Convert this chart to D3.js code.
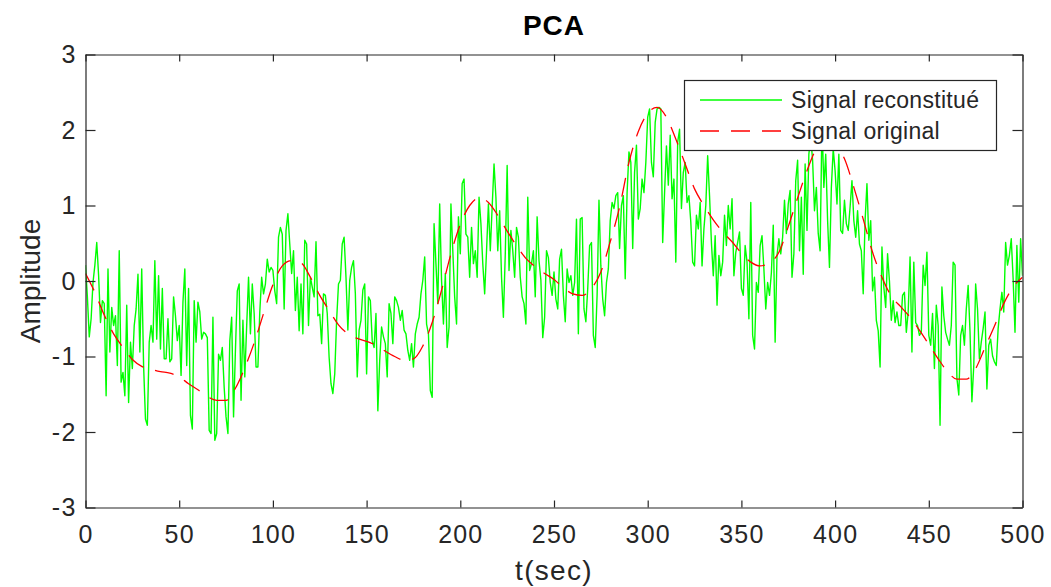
<!DOCTYPE html>
<html>
<head>
<meta charset="utf-8">
<script src="https://cdn.jsdelivr.net/npm/d3@7.9.0/dist/d3.min.js"></script>
<style>
  body { margin: 0; background: #fff; }
  svg { display: block; font-family: "Liberation Sans", Arial, Helvetica, sans-serif; }
</style>
</head>
<body>
<svg id="chart" width="1051" height="587"></svg>
<script>
const title = 'PCA';
const xLabel = 't(sec)';
const yLabel = 'Amplitude';
const seriesNames = ['Signal reconstitué', 'Signal original'];
const xTicks = [0, 50, 100, 150, 200, 250, 300, 350, 400, 450, 500];
const yTicks = [-3, -2, -1, 0, 1, 2, 3];

// reconstructed signal, one value per second (t = 0 .. 500)
const reconStep = 1;
const reconValues = [
  // t 0-63
  0.21, -0.21, -0.74, -0.50, -0.02, 0.21, 0.51, 0.07, -0.55, -0.26,
  -0.30, -1.52, 0.16, -0.94, -0.35, -0.59, -0.46, -1.12, 0.40, -1.34,
  -1.21, -1.52, -0.32, -1.61, -0.81, -1.16, -0.59, -0.37, 0.09, -0.94,
  0.16, -1.12, -1.83, -1.91, -0.81, -0.59, -0.81, 0.27, -0.77, 0.07,
  -0.90, -0.10, -1.03, -1.03, -0.50, -1.07, -1.03, -0.21, -0.46, -0.79,
  -0.59, -1.25, -0.28, 0.16, -1.12, -0.10, -1.78, -1.96, -0.26, -0.81,
  -0.28, -0.41, -0.77, -0.68,
  // t 64-124
  -0.70, -0.75, -1.98, -2.02, -0.48, -2.11, -2.02, -0.97, -1.05, -0.88,
  -1.41, -1.80, -2.02, -0.79, -0.48, -1.80, -0.92, -0.13, -0.04, -1.58,
  -0.52, -1.27, -0.60, 0.05, -0.70, -0.04, -0.43, -1.14, -1.14, -0.41,
  0.05, -0.17, -0.04, 0.29, 0.12, 0.18, 0.14, -0.13, -0.30, 0.58,
  0.71, 0.62, -0.37, 0.67, 0.89, 0.49, 0.10, 0.40, -0.39, 0.05,
  -0.66, -0.04, -0.70, 0.54, 0.49, -0.59, 0.05, -0.08, -0.21, 0.52,
  -0.46,
  // t 125-186
  -0.44, -0.83, -0.17, -0.19, -0.43, -1.01, -1.36, -1.49, -1.23, -0.52,
  -0.04, 0.01, 0.49, 0.58, 0.05, -0.65, 0.01, 0.18, 0.27, -0.17,
  -1.27, -0.65, -0.52, -0.12, -0.04, -1.23, -0.21, -0.26, -0.79, -0.88,
  -0.43, -1.72, -1.05, -0.61, -0.74, -0.83, -1.27, -0.30, -0.43, -0.83,
  -0.21, -0.26, -0.35, -0.52, -0.39, -0.65, -0.70, -0.92, -1.05, -0.83,
  -1.14, -0.70, -0.57, -0.48, -0.17, 0.01, 0.32, -0.57, -0.70, -1.45,
  -1.54, 0.76,
  // t 187-247
  0.23, -0.30, 1.02, 0.01, -0.57, 0.10, -0.88, -0.61, 1.02, 0.40,
  -0.21, -0.57, 0.85, 0.36, 1.29, 1.35, 0.62, 0.58, 0.05, 0.71,
  0.23, 0.40, 0.05, 1.11, 0.76, 0.23, -0.17, 0.40, 1.02, 0.40,
  0.98, 1.55, 1.11, 0.40, 0.93, 0.05, -0.48, 0.36, 1.53, 0.14,
  0.67, 0.40, 0.05, 0.71, 0.58, 0.05, -0.21, -0.30, -0.57, 1.11,
  0.14, 0.23, 0.40, -0.21, 0.85, 0.27, 0.01, -0.75, -0.48, 0.40,
  0.31,
  // t 248-309
  -0.02, -0.19, 0.12, -0.24, -0.37, 0.29, 0.42, -0.19, -0.54, 0.16,
  -0.02, 0.07, -0.19, -0.02, 0.82, -0.70, 0.82, 0.84, -0.37, -0.54,
  -0.10, 0.47, 0.51, -0.72, -0.88, -0.19, 1.07, 0.20, -0.24, -0.46,
  -0.02, 0.16, 0.80, 1.04, 0.96, 1.13, 1.17, 0.43, 1.00, 1.13,
  0.03, 1.17, 1.71, 1.57, 0.43, 1.44, 1.80, 0.82, 0.96, 1.35,
  1.17, 1.57, 2.17, 2.28, 1.57, 1.38, 2.10, 2.28, 2.30, 2.28,
  0.51, 1.17,
  // t 310-370
  1.79, 1.27, 1.93, 1.09, 1.35, 0.25, 1.84, 2.01, 0.96, 1.44,
  1.57, 1.04, 1.13, 0.78, 0.25, 0.20, 0.87, 0.69, 1.04, 0.20,
  0.69, 1.00, 1.66, 1.13, 0.51, 0.07, 0.60, -0.32, 0.34, 0.07,
  0.25, 0.87, 0.47, 1.00, 0.69, 1.09, 0.07, 0.38, 0.51, 0.65,
  -0.10, -0.19, 0.47, 0.25, -0.50, 1.04, -0.72, -0.90, -0.02, -0.15,
  0.47, 0.60, 0.16, -0.37, -0.02, -0.19, 0.11, 0.74, -0.81, 0.34,
  0.56,
  // t 371-431
  0.36, 0.58, 1.07, 0.63, 1.02, 1.20, 0.05, 0.36, 1.33, 1.60,
  0.40, 1.11, 0.09, 1.55, 0.67, 1.68, 1.90, 1.60, 0.93, 1.24,
  0.63, 0.40, 2.10, 1.24, 1.68, 0.80, 0.18, 1.24, 1.75, 1.46,
  1.02, 1.68, 0.67, 0.63, 1.07, 0.76, 0.67, 0.98, 1.33, 0.80,
  0.58, 0.93, 0.49, 0.40, -0.17, 0.80, 1.29, 0.54, 0.80, -0.13,
  0.05, -0.52, -0.66, -1.14, 0.45, -0.08, -0.35, 0.36, 0.00, -0.52,
  -0.26,
  // t 432-500
  -0.55, -0.41, -0.59, -0.59, -0.19, -0.15, -0.68, -0.41, 0.32, -0.94,
  0.25, -0.55, -0.59, -0.72, -0.68, 0.21, -0.06, 0.38, -0.72, -0.85,
  -0.43, -1.16, -0.32, -0.59, -1.91, -0.08, -0.46, -0.68, -0.77, -0.85,
  -0.59, 0.25, 0.21, -1.29, -1.51, -0.72, -0.59, -0.85, -0.37, -0.06,
  -0.68, -1.60, -1.12, -0.04, -0.37, -1.03, -0.81, -0.63, -0.41, -1.43,
  -0.85, -0.77, -0.99, -1.07, -1.12, -0.63, -0.37, -0.15, -0.41, 0.51,
  0.21, 0.34, 0.56, 0.03, -0.68, 0.47, -0.28, 0.56, 0.07
];

// original signal, read every 5 sec (t = 0 .. 500)
const origStep = 5;
const origValues = [
  0.10, -0.15, -0.45, -0.70, -0.88, -1.04, -1.13, -1.17, -1.20, -1.22,
  -1.27, -1.36, -1.44, -1.53, -1.58, -1.58, -1.42, -1.15, -0.82, -0.43,
  -0.05, 0.20, 0.27, 0.24, 0.05, -0.19, -0.39, -0.58, -0.70, -0.76,
  -0.80, -0.85, -0.93, -1.00, -1.05, -1.03, -0.86, -0.55, -0.12, 0.36,
  0.75, 1.00, 1.10, 1.04, 0.87, 0.66, 0.47, 0.30, 0.19, 0.10,
  0.02, -0.09, -0.17, -0.19, -0.10, 0.12, 0.52, 0.98, 1.57, 1.98,
  2.22, 2.30, 2.17, 1.88, 1.55, 1.22, 1.00, 0.81, 0.65, 0.52,
  0.37, 0.25, 0.20, 0.24, 0.38, 0.72, 1.10, 1.46, 1.75, 1.85,
  1.80, 1.62, 1.24, 0.82, 0.38, 0.05, -0.20, -0.34, -0.48, -0.65,
  -0.84, -1.03, -1.20, -1.30, -1.30, -1.16, -0.88, -0.60, -0.30, -0.08,
  0.05
];

const axisColor = '#262626';
const box = { left: 85.5, right: 1022.5, top: 54.5, bottom: 507.5 };

const svg = d3.select('#chart');

const x = d3.scaleLinear().domain([0, 500]).range([box.left, box.right]);
const y = d3.scaleLinear().domain([-3, 3]).range([box.bottom, box.top]);

const recon = reconValues.map((v, i) => ({ t: i * reconStep, v }));
const orig = origValues.map((v, i) => ({ t: i * origStep, v }));

svg.append('defs').append('clipPath').attr('id', 'plot-clip')
  .append('rect')
  .attr('x', box.left).attr('y', box.top)
  .attr('width', box.right - box.left).attr('height', box.bottom - box.top);

const plot = svg.append('g').attr('clip-path', 'url(#plot-clip)');

plot.append('path')
  .datum(recon)
  .attr('fill', 'none')
  .attr('stroke', '#00ff00')
  .attr('stroke-width', 1.4)
  .attr('stroke-linejoin', 'round')
  .attr('d', d3.line().x(d => x(d.t)).y(d => y(d.v)));

plot.append('path')
  .datum(orig)
  .attr('fill', 'none')
  .attr('stroke', '#ff0000')
  .attr('stroke-width', 1.3)
  .attr('stroke-dasharray', '19,12')
  .attr('d', d3.line().curve(d3.curveMonotoneX).x(d => x(d.t)).y(d => y(d.v)));

// axes, ticks pointing inward on all four sides
function styleAxis(g) {
  g.attr('font-family', null).attr('font-size', null);
  g.selectAll('path.domain').attr('stroke', axisColor).attr('stroke-width', 1.2);
  g.selectAll('.tick line').attr('stroke', axisColor).attr('stroke-width', 1.2);
  g.selectAll('.tick text')
    .attr('fill', axisColor)
    .style('font-size', '25px')
    .style('letter-spacing', '1.2px');
}

svg.append('g')
  .attr('transform', `translate(0,${box.bottom})`)
  .call(d3.axisBottom(x).tickValues(xTicks).tickSizeInner(-7).tickSizeOuter(0)
    .tickPadding(18).tickFormat(d => String(d)))
  .call(styleAxis);

svg.append('g')
  .attr('transform', `translate(0,${box.top})`)
  .call(d3.axisTop(x).tickValues(xTicks).tickSizeInner(-7).tickSizeOuter(0).tickFormat(''))
  .call(styleAxis);

svg.append('g')
  .attr('transform', `translate(${box.left},0)`)
  .call(d3.axisLeft(y).tickValues(yTicks).tickSizeInner(-10).tickSizeOuter(0)
    .tickPadding(9).tickFormat(d => String(d)))
  .call(styleAxis);

svg.append('g')
  .attr('transform', `translate(${box.right},0)`)
  .call(d3.axisRight(y).tickValues(yTicks).tickSizeInner(-10).tickSizeOuter(0).tickFormat(''))
  .call(styleAxis);

// labels
svg.append('text')
  .attr('x', (box.left + box.right) / 2).attr('y', 35)
  .attr('text-anchor', 'middle')
  .attr('font-weight', 'bold')
  .attr('font-size', 28)
  .attr('letter-spacing', 1)
  .attr('fill', '#000')
  .text(title);

svg.append('text')
  .attr('x', (box.left + box.right) / 2).attr('y', 580)
  .attr('text-anchor', 'middle')
  .attr('font-size', 28)
  .attr('letter-spacing', 1.3)
  .attr('fill', axisColor)
  .text(xLabel);

svg.append('text')
  .attr('transform', `translate(40,${(box.top + box.bottom) / 2}) rotate(-90)`)
  .attr('text-anchor', 'middle')
  .attr('font-size', 28)
  .attr('fill', axisColor)
  .text(yLabel);

// legend
const legend = svg.append('g');
legend.append('rect')
  .attr('x', 684.5).attr('y', 80.5)
  .attr('width', 312).attr('height', 70)
  .attr('fill', '#fff')
  .attr('stroke', axisColor)
  .attr('stroke-width', 1.2);

const legendColors = ['#00ff00', '#ff0000'];
const legendDash = [null, '19,12'];
const legendRows = [100, 131];

seriesNames.forEach((name, i) => {
  legend.append('line')
    .attr('x1', 700).attr('x2', 782)
    .attr('y1', legendRows[i]).attr('y2', legendRows[i])
    .attr('stroke', legendColors[i])
    .attr('stroke-width', 1.3)
    .attr('stroke-dasharray', legendDash[i]);
  legend.append('text')
    .attr('x', 791).attr('y', legendRows[i])
    .attr('dy', '0.35em')
    .attr('font-size', 23)
    .attr('letter-spacing', 0.3)
    .attr('fill', axisColor)
    .text(name);
});
</script>
</body>
</html>
